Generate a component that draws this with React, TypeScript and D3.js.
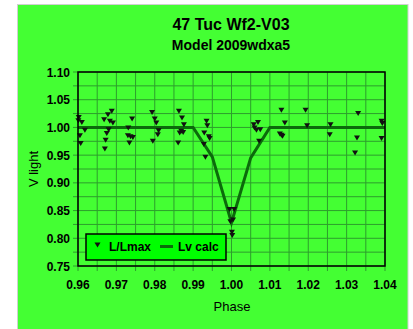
import React from "react";
import * as d3 from "d3";

const obsPhase = [
  0.9602, 0.961, 0.9618, 0.9605, 0.9607, 0.9601,
  0.9668, 0.9678, 0.9688, 0.9683, 0.9691, 0.968, 0.9675, 0.9672, 0.967,
  0.9731, 0.9741, 0.973, 0.9737, 0.9743, 0.9734,
  0.9793, 0.98, 0.9804, 0.981, 0.9808, 0.9795,
  0.9863, 0.9871, 0.9876, 0.9869, 0.9865, 0.9874, 0.9861,
  0.9935, 0.9937, 0.9929, 0.9941, 0.9943, 0.9928, 0.9932,
  0.9995, 1.0007, 0.9997, 1.0004, 1.0001, 1.0002,
  1.0058, 1.0069, 1.006, 1.0065, 1.0075, 1.0072,
  1.013, 1.0139, 1.0126, 1.0133, 1.013,
  1.0193, 1.0197,
  1.0258, 1.0256,
  1.033, 1.0327, 1.0322,
  1.0391, 1.0393, 1.0391,
];
const obsLight = [
  1.018, 1.009, 0.995, 0.985, 0.971, 1.012,
  1.014, 1.023, 1.029, 1.011, 1.008, 0.996, 0.989, 0.977, 0.961,
  0.999, 1.015, 0.985, 0.983, 0.982, 0.972,
  1.027, 1.015, 1.008, 0.994, 0.987, 0.975,
  1.029, 1.017, 1.005, 0.993, 0.99, 0.991, 0.972,
  1.011, 1.003, 0.99, 0.983, 0.98, 0.969, 0.946,
  0.852, 0.852, 0.83, 0.833, 0.811, 0.805,
  1.005, 1.009, 0.999, 0.995, 0.996, 0.975,
  1.031, 1.008, 0.988, 0.984, 0.986,
  1.031, 1.003,
  1.005, 0.987,
  1.025, 0.981, 0.954,
  1.011, 1.007, 0.98,
];

const modelPhase = [0.96, 0.99, 0.995, 1.0, 1.005, 1.01, 1.04];
const modelLight = [1.0, 1.0, 0.947, 0.828, 0.945, 1.0, 1.0];

const xTicks = [0.96, 0.97, 0.98, 0.99, 1.0, 1.01, 1.02, 1.03, 1.04];
const yTicks = [0.75, 0.8, 0.85, 0.9, 0.95, 1.0, 1.05, 1.1];

const W = 413;
const H = 329;
const L = 78;
const R = 385;
const T = 72;
const B = 266;
const BG = "#44ff33";
const GRID = "#2d9e2d";
const LINE = "#0b6b0b";
const FONT = "Arial, 'Liberation Sans', sans-serif";

export default function App() {
  const x = d3.scaleLinear().domain([0.96, 1.04]).range([L, R]);
  const y = d3.scaleLinear().domain([0.75, 1.1]).range([B, T]);

  const xGrid = d3.range(0, 17).map((i) => 0.96 + i * 0.005);
  const yGrid = d3.range(0, 15).map((i) => 0.75 + i * 0.025);

  const line = d3
    .line<number>()
    .x((_, i) => x(modelPhase[i]))
    .y((d) => y(d));

  const tri = "M-3,-2.5L3,-2.5L0,2.5Z";

  return (
    <svg
      width={W}
      height={H}
      style={{ position: "absolute", left: 0, top: 0 }}
      fontFamily={FONT}
    >
      <rect x={0} y={0} width={W} height={H} fill="#ffffff" />
      <rect x={17.5} y={4.5} width={390.5} height={330} fill={BG} stroke="#d0d0d0" />
      <text x={231} y={30} textAnchor="middle" fontSize={16} fontWeight="bold">
        47 Tuc Wf2-V03
      </text>
      <text x={231} y={50} textAnchor="middle" fontSize={14} fontWeight="bold">
        Model 2009wdxa5
      </text>

      {xGrid.map((g, i) => (
        <g key={"xg" + i}>
          <line x1={x(g)} x2={x(g)} y1={T} y2={B} stroke={GRID} strokeWidth={1} />
          <line x1={x(g)} x2={x(g)} y1={B} y2={B + 5} stroke={GRID} strokeWidth={1} />
        </g>
      ))}
      {yGrid.map((g, i) => (
        <g key={"yg" + i}>
          <line x1={L} x2={R} y1={y(g)} y2={y(g)} stroke={GRID} strokeWidth={1} />
          <line x1={L - 5} x2={L} y1={y(g)} y2={y(g)} stroke={GRID} strokeWidth={1} />
        </g>
      ))}

      <path d={line(modelLight) || ""} fill="none" stroke={LINE} strokeWidth={3} />

      {obsPhase.map((p, i) => (
        <path
          key={"o" + i}
          d={tri}
          transform={`translate(${x(p)},${y(obsLight[i])})`}
          fill="#111111"
        />
      ))}

      <rect x={L} y={T} width={R - L} height={B - T} fill="none" stroke="#000" strokeWidth={1.5} />

      {yTicks.map((t, i) => (
        <text
          key={"yt" + i}
          x={70}
          y={y(t) + 4.5}
          textAnchor="end"
          fontSize={12}
          fontWeight="bold"
        >
          {t.toFixed(2)}
        </text>
      ))}
      {xTicks.map((t, i) => (
        <text
          key={"xt" + i}
          x={x(t)}
          y={289}
          textAnchor="middle"
          fontSize={12}
          fontWeight="bold"
        >
          {t.toFixed(2)}
        </text>
      ))}

      <text x={232} y={311} textAnchor="middle" fontSize={13}>
        Phase
      </text>
      <text
        transform={`translate(38,169) rotate(-90)`}
        textAnchor="middle"
        fontSize={13}
      >
        V light
      </text>

      <g>
        <rect x={86} y={234} width={140} height={26} fill="#00ff00" stroke="#000" strokeWidth={1.5} />
        <path d={tri} transform="translate(97.5,245)" fill="#111111" />
        <text x={109} y={251} fontSize={12} fontWeight="bold">
          L/Lmax
        </text>
        <line x1={160} x2={173} y1={246.5} y2={246.5} stroke={LINE} strokeWidth={3} />
        <text x={178} y={251} fontSize={12} fontWeight="bold">
          Lv calc
        </text>
      </g>
    </svg>
  );
}
